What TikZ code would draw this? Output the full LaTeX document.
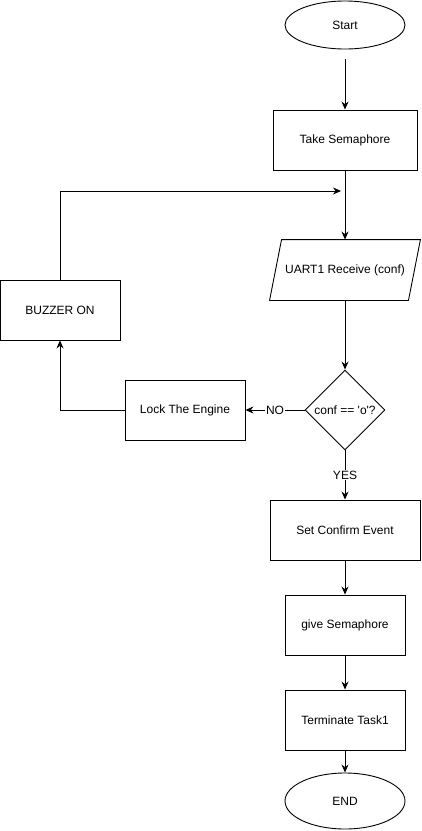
\documentclass[tikz,border=0pt]{standalone}
\usepackage{fontspec}
\setmainfont{Liberation Sans}
\usetikzlibrary{shapes.geometric,arrows.meta}

\begin{document}
\begin{tikzpicture}[x=1pt,y=-1pt,
	every node/.style={font=\fontsize{12}{14}\selectfont, line width=0.9pt},
	terminal/.style={draw, ellipse, minimum width=120pt, minimum height=48pt, inner sep=0pt},
	process/.style={draw, rectangle, minimum width=120pt, minimum height=60pt},
	inout/.style={rectangle, minimum width=138pt, minimum height=60pt, inner sep=0pt},
	decision/.style={draw, diamond, aspect=1, minimum width=80pt, minimum height=80pt, inner sep=0pt},
	flow/.style={line width=0.9pt, -{Stealth[length=8pt,width=7pt]}},
	edgelabel/.style={fill=white, inner sep=1pt}]
	\useasboundingbox[fill=white] (0,0) rectangle (421,831);
	% main column
	\node[terminal] (start) at (345,25) {Start};
	\node[process, minimum width=144pt] (take) at (345,140) {Take Semaphore};
	\node[inout] (uart) at (345,270) {UART1 Receive (conf)};
	\draw[line width=0.9pt] ([xshift=-6pt]uart.south west) -- ([xshift=6pt]uart.north west)
	-- ([xshift=6pt]uart.north east) -- ([xshift=-6pt]uart.south east) -- cycle;
	\node[decision] (cond) at (345,410) {conf == \textquotesingle o\textquotesingle ?};
	\node[process, minimum width=150pt] (confirm) at (345,530) {Set Confirm Event};
	\node[process] (give) at (345,625) {give Semaphore};
	\node[process] (term) at (345,720) {Terminate Task1};
	\node[terminal, minimum height=56pt] (finish) at (345,801) {END};
	% failure branch
	\node[process] (lock) at (185,410) {Lock The Engine};
	\node[process] (buzz) at (60,310) {BUZZER ON};
	\coordinate (join) at (345,191);
	\path[flow]
	(start) edge[shorten <=10pt] (take)
	(take) edge (uart)
	(uart) edge (cond)
	(cond) edge node[edgelabel] {NO} (lock)
	(cond) edge node[edgelabel] {YES} (confirm)
	(confirm) edge (give)
	(give) edge (term)
	(term) edge (finish);
	\draw[flow] (lock) -| (buzz);
	\draw[flow, shorten >=4pt] (buzz) |- (join);
\end{tikzpicture}
\end{document}
